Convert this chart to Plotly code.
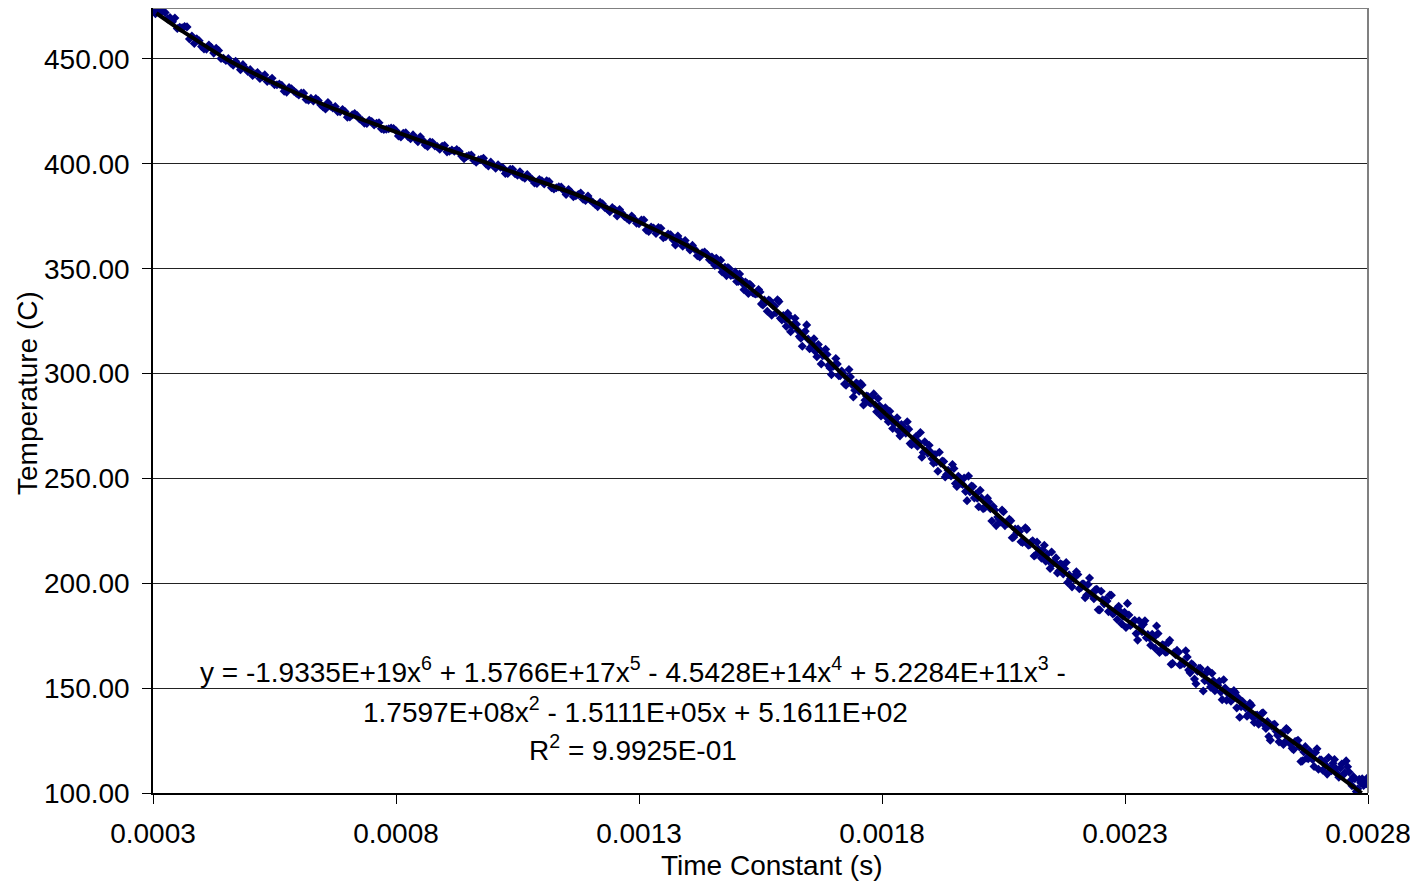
import plotly.graph_objects as go

# ---------------- data ----------------
# time constant in microseconds (converted to seconds below), temperature in C
scatter_time_us = [
    # first pass
    304, 305, 315, 320, 325, 330, 335, 345, 350, 355, 365, 370, 375, 385, 390, 395, 405, 410, 415, 425, 430, 435, 440, 445,
    455, 465, 475, 485, 495, 505, 515, 525, 535, 545, 555, 565, 575, 585, 595, 605, 615, 625, 635, 645, 655, 665, 675, 685, 695, 705, 715, 725, 735, 745,
    755, 765, 775, 785, 795, 805, 815, 825, 835, 845, 855, 865, 875, 885, 895, 905, 915, 925, 935, 945, 955, 965, 975, 985, 995,
    1005, 1015, 1025, 1035, 1045, 1055, 1065, 1075, 1085, 1095, 1105, 1115, 1125, 1135, 1145, 1155, 1165, 1175, 1185, 1195,
    1205, 1215, 1225, 1235, 1245, 1255, 1265, 1275, 1285, 1295,
    1305, 1315, 1325, 1335, 1345, 1355, 1365, 1375, 1385, 1395, 1405, 1415, 1425, 1435, 1445,
    1450, 1456, 1462, 1468, 1474, 1480, 1486, 1492, 1498, 1504,
    1510, 1516, 1522, 1528, 1534, 1540, 1546, 1552, 1558, 1564,
    1570, 1576, 1582, 1588, 1594, 1600, 1606, 1612, 1618, 1624,
    1630, 1636, 1642, 1648, 1654, 1660, 1666, 1672, 1678, 1684,
    1690, 1696, 1702, 1708, 1714, 1720, 1726, 1732, 1738, 1744,
    1750, 1756, 1762, 1768, 1774, 1780, 1786, 1792, 1798, 1804,
    1810, 1816, 1822, 1828, 1834, 1840, 1846, 1852, 1858, 1864,
    1870, 1876, 1882, 1888, 1894, 1900, 1906, 1912, 1918, 1924,
    1930, 1936, 1942, 1948, 1954, 1960, 1966, 1972, 1978, 1984,
    1990, 1996, 2002, 2008, 2014, 2020, 2026, 2032, 2038, 2044,
    2050, 2056, 2062, 2068, 2074, 2080, 2086, 2092, 2098, 2104,
    2110, 2116, 2122, 2128, 2134, 2140, 2146, 2152, 2158, 2164,
    2170, 2176, 2182, 2188, 2194, 2200, 2206, 2212, 2218, 2224,
    2230, 2236, 2242, 2248, 2254, 2260, 2266, 2272, 2278, 2284,
    2290, 2296, 2302, 2308, 2314, 2320, 2326, 2332, 2338, 2344,
    2350, 2356, 2362, 2368, 2374, 2380, 2386, 2392, 2398, 2404,
    2410, 2416, 2422, 2428, 2434, 2440, 2446, 2452, 2458, 2464,
    2470, 2476, 2482, 2488, 2494, 2500, 2506, 2512, 2518, 2524,
    2530, 2536, 2542, 2548, 2554, 2560, 2566, 2572, 2578, 2584,
    2590, 2596, 2602, 2608, 2614, 2620, 2626, 2632, 2638, 2644,
    2650, 2656, 2662, 2668, 2674, 2680, 2686, 2692, 2698, 2704,
    2710, 2716, 2722, 2728, 2734, 2740, 2746, 2752, 2758, 2764,
    2770, 2776, 2782, 2788, 2794, 2800,
    # second pass
    310, 340, 360, 380, 400, 420, 450,
    460, 470, 480, 490, 500, 510, 520, 530, 540, 550, 560, 570, 580, 590, 600, 610, 620, 630, 640, 650, 660, 670, 680, 690, 700, 710, 720, 730, 740, 750,
    760, 770, 780, 790, 800, 810, 820, 830, 840, 850, 860, 870, 880, 890, 900, 910, 920, 930, 940, 950, 960, 970, 980, 990, 1000, 1010, 1020, 1030, 1040, 1050,
    1060, 1070, 1080, 1090, 1100, 1110, 1120, 1130, 1140, 1150, 1160, 1170, 1180, 1190, 1200, 1210, 1220, 1230, 1240, 1250, 1260, 1270, 1280, 1290, 1300,
    1310, 1320, 1330, 1340, 1350, 1360, 1370, 1380, 1390, 1400, 1410, 1420, 1430, 1440,
    1453, 1459, 1465, 1471, 1477, 1483, 1489, 1495, 1501, 1507,
    1513, 1519, 1525, 1531, 1537, 1543, 1549, 1555, 1561, 1567,
    1573, 1579, 1585, 1591, 1597, 1603, 1609, 1615, 1621, 1627,
    1633, 1639, 1645, 1651, 1657, 1663, 1669, 1675, 1681, 1687,
    1693, 1699, 1705, 1711, 1717, 1723, 1729, 1735, 1741, 1747,
    1753, 1759, 1765, 1771, 1777, 1783, 1789, 1795, 1801, 1807,
    1813, 1819, 1825, 1831, 1837, 1843, 1849, 1855, 1861, 1867,
    1873, 1879, 1885, 1891, 1897, 1903, 1909, 1915, 1921, 1927,
    1933, 1939, 1945, 1951, 1957, 1963, 1969, 1975, 1981, 1987,
    1993, 1999, 2005, 2011, 2017, 2023, 2029, 2035, 2041, 2047,
    2053, 2059, 2065, 2071, 2077, 2083, 2089, 2095, 2101, 2107,
    2113, 2119, 2125, 2131, 2137, 2143, 2149, 2155, 2161, 2167,
    2173, 2179, 2185, 2191, 2197, 2203, 2209, 2215, 2221, 2227,
    2233, 2239, 2245, 2251, 2257, 2263, 2269, 2275, 2281, 2287,
    2293, 2299, 2305, 2311, 2317, 2323, 2329, 2335, 2341, 2347,
    2353, 2359, 2365, 2371, 2377, 2383, 2389, 2395, 2401, 2407,
    2413, 2419, 2425, 2431, 2437, 2443, 2449, 2455, 2461, 2467,
    2473, 2479, 2485, 2491, 2497, 2503, 2509, 2515, 2521, 2527,
    2533, 2539, 2545, 2551, 2557, 2563, 2569, 2575, 2581, 2587,
    2593, 2599, 2605, 2611, 2617, 2623, 2629, 2635, 2641, 2647,
    2653, 2659, 2665, 2671, 2677, 2683, 2689, 2695, 2701, 2707,
    2713, 2719, 2725, 2731, 2737, 2743, 2749, 2755, 2761, 2767,
    2773, 2779, 2785, 2791, 2797,
]
scatter_temp = [
    # first pass
    473.2, 471.6, 472.0, 473.0, 472.1, 469.1, 469.8, 469.5, 464.5, 465.1, 465.5, 465.3, 459.5, 457.4, 459.6, 458.7, 454.8, 454.7, 456.6, 452.8, 455.1, 454.0, 450.2, 450.3,
    450.2, 447.0, 447.3, 447.3, 444.0, 442.1, 443.5, 441.5, 439.3, 440.8, 437.7, 437.4, 434.2, 435.8, 433.7, 433.7, 430.7, 431.2, 431.1, 428.2, 426.2, 427.5, 427.3, 424.8, 424.9, 422.3, 424.0, 421.4, 419.4, 420.8,
    418.5, 419.6, 416.4, 416.7, 416.8, 413.3, 414.6, 412.9, 413.8, 410.5, 411.2, 408.3, 410.2, 408.2, 408.4, 405.7, 406.6, 406.8, 403.7, 403.5, 404.2, 400.8, 402.1, 400.0, 400.8,
    397.9, 398.4, 395.4, 397.4, 395.3, 396.2, 393.1, 393.5, 390.9, 392.5, 390.4, 391.5, 388.0, 389.0, 387.3, 387.7, 384.3, 385.3, 383.1, 384.6,
    381.7, 379.6, 380.9, 378.4, 379.1, 375.1, 376.4, 374.1, 375.1, 371.7,
    373.2, 368.4, 369.9, 366.8, 369.3, 365.3, 366.2, 361.3, 363.3, 363.4, 358.9, 359.2, 355.6, 357.9, 354.3,
    355.6, 351.6, 352.8, 354.0, 349.7, 346.7, 350.0, 347.1, 348.4, 343.9,
    344.6, 340.0, 343.0, 342.6, 338.5, 338.0, 340.1, 333.2, 335.0, 329.7,
    334.6, 332.3, 329.0, 334.3, 325.6, 325.9, 328.7, 319.9, 323.5, 323.5,
    317.7, 313.0, 320.2, 316.4, 312.7, 316.6, 308.0, 311.3, 308.5, 311.6,
    303.8, 299.5, 304.0, 304.5, 299.0, 300.0, 294.5, 301.9, 294.8, 292.0,
    295.0, 295.3, 285.0, 289.3, 286.2, 289.2, 285.0, 288.1, 279.8, 283.0,
    278.9, 282.0, 273.8, 276.9, 272.6, 275.7, 272.6, 277.0, 266.6, 266.9,
    270.0, 267.1, 260.1, 267.5, 262.0, 262.6, 257.2, 257.9, 262.5, 258.3,
    250.7, 253.9, 251.2, 254.7, 246.2, 250.3, 247.1, 243.8, 251.1, 246.4,
    240.7, 240.6, 244.3, 235.6, 238.4, 238.8, 229.7, 234.9, 231.6, 229.3,
    234.1, 228.8, 230.5, 221.7, 225.9, 225.9, 219.8, 220.1, 225.7, 218.4,
    220.3, 213.5, 216.2, 212.0, 218.1, 213.8, 207.1, 209.5, 212.1, 205.9,
    208.9, 206.9, 200.4, 202.2, 202.2, 205.5, 197.4, 199.6, 193.1, 199.4,
    194.9, 192.6, 197.1, 187.3, 192.1, 192.2, 186.5, 194.3, 186.0, 182.7,
    186.5, 184.3, 178.9, 184.9, 180.6, 182.3, 172.9, 178.9, 180.5, 174.0,
    174.0, 175.7, 169.0, 176.0, 168.0, 170.4, 167.2, 172.8, 161.8, 165.9,
    167.1, 161.4, 161.6, 164.8, 157.3, 161.0, 152.1, 159.4, 157.0, 153.5,
    158.6, 150.5, 153.5, 151.0, 153.3, 144.5, 150.1, 147.4, 143.8, 148.8,
    140.6, 136.1, 143.6, 140.5, 137.5, 141.8, 133.6, 137.2, 134.8, 138.3,
    130.8, 126.9, 131.8, 132.7, 127.5, 128.3, 123.1, 130.7, 123.9, 121.3,
    124.5, 125.1, 115.0, 119.6, 116.7, 120.0, 116.0, 119.3, 111.3, 115.7,
    115.0, 109.0, 111.7, 114.2, 111.7, 107.5, 113.8, 109.7, 112.5, 105.9,
    107.8, 100.7, 106.5, 106.8, 105.2, 107.5,
    # second pass
    473.0, 467.7, 464.9, 460.9, 455.9, 455.4, 449.3,
    448.1, 448.9, 444.9, 445.6, 444.9, 442.8, 440.7, 442.4, 439.8, 437.7, 438.0, 434.6, 436.4, 434.6, 432.8, 433.7, 430.3, 430.0, 430.2, 427.1, 429.2, 426.6, 424.9, 425.9, 422.2, 423.4, 423.0, 420.8, 419.2, 420.2,
    419.3, 416.7, 416.5, 417.1, 415.8, 412.8, 414.8, 412.0, 412.0, 412.9, 409.0, 410.4, 408.5, 407.0, 408.7, 406.0, 406.0, 406.0, 402.5, 404.0, 401.7, 401.9, 402.6, 399.0, 399.2, 399.5, 398.1, 395.4, 397.4, 394.6,
    393.7, 394.9, 392.6, 390.6, 391.9, 391.9, 388.6, 388.6, 388.9, 385.4, 386.6, 384.8, 386.1, 382.5, 382.6, 380.6, 381.6, 379.1, 377.2, 378.2, 378.2, 374.9, 373.1, 373.7, 371.5,
    373.2, 367.7, 369.4, 369.6, 364.8, 366.5, 363.8, 365.6, 360.7, 360.7, 361.1, 356.2, 357.6, 356.9,
    352.7, 355.0, 351.6, 348.4, 350.7, 350.5, 346.8, 347.0, 343.9, 347.5,
    343.1, 343.6, 338.2, 341.9, 338.2, 338.2, 338.9, 332.7, 334.1, 335.1,
    327.8, 332.1, 335.2, 326.4, 327.7, 322.5, 327.2, 322.4, 326.4, 320.5,
    316.8, 319.4, 323.2, 311.8, 314.1, 310.5, 313.8, 304.6, 308.8, 309.1,
    302.7, 303.4, 307.2, 299.0, 301.2, 295.0, 297.7, 298.4, 288.8, 295.5,
    291.6, 294.6, 287.3, 289.1, 285.9, 290.3, 281.8, 284.6, 281.8, 283.7,
    277.0, 278.8, 276.1, 278.9, 270.3, 274.8, 271.6, 273.5, 266.1, 269.1,
    265.3, 271.9, 262.4, 263.1, 265.8, 259.4, 261.4, 253.4, 257.3, 258.1,
    251.9, 252.3, 256.6, 247.6, 251.0, 247.6, 250.2, 239.4, 243.5, 246.1,
    242.5, 236.5, 240.6, 235.9, 240.6, 235.5, 236.6, 227.5, 230.6, 234.9,
    227.5, 228.5, 229.8, 222.0, 224.0, 224.7, 219.5, 226.5, 218.2, 219.7,
    213.0, 219.6, 214.9, 215.9, 210.5, 210.6, 214.9, 210.1, 204.9, 209.3,
    204.4, 209.9, 204.0, 198.3, 203.8, 204.2, 197.9, 199.6, 194.3, 202.5,
    194.9, 196.9, 187.4, 196.2, 190.2, 191.5, 194.4, 185.4, 187.5, 189.0,
    180.7, 186.2, 190.4, 179.9, 181.7, 176.0, 182.1, 176.9, 182.1, 175.5,
    170.5, 174.2, 179.6, 167.0, 170.7, 167.1, 171.7, 161.4, 167.0, 168.0,
    161.0, 162.5, 167.8, 158.6, 161.6, 154.3, 158.1, 159.5, 148.6, 157.1,
    152.9, 157.1, 148.8, 151.4, 148.1, 154.0, 144.2, 148.0, 145.2, 147.9,
    145.4, 141.2, 141.7, 136.6, 142.8, 136.1, 137.0, 132.8, 137.9, 132.6,
    134.1, 125.2, 132.5, 129.5, 124.4, 128.6, 124.3, 130.0, 123.8, 120.7,
    124.6, 121.9, 115.3, 122.1, 116.3, 117.5, 112.6, 121.1, 115.8, 110.9,
    113.2, 116.9, 110.6, 116.0, 109.0, 111.9, 108.6, 115.3, 110.0, 103.5,
    106.8, 102.0, 104.9, 103.6, 104.4,
]

# polynomial trendline
trend_time_us = [307, 362, 410, 454, 500, 568, 637, 705, 774, 843, 911, 980, 1041, 1110, 1179, 1247,
                 1316, 1384, 1453, 1477, 1522, 1590, 1650, 1717, 1837, 1954, 2080, 2204, 2350, 2496, 2640, 2787]
trend_temp = [471.8, 463.0, 455.9, 449.5, 444.0, 436.5, 429.6, 423.3, 417.4, 411.7, 406.4, 401.0, 396.0, 390.5, 384.6, 377.8,
              370.5, 362.8, 354.0, 350.0, 342.0, 328.8, 315.6, 300.0, 274.6, 250.0, 224.0, 200.0, 174.5, 150.0, 125.3, 100.0]

x_tick_values = [0.0003, 0.0008, 0.0013, 0.0018, 0.0023, 0.0028]
x_tick_labels = ["0.0003", "0.0008", "0.0013", "0.0018", "0.0023", "0.0028"]
y_tick_values = [100, 150, 200, 250, 300, 350, 400, 450]
y_tick_labels = ["%.2f" % v for v in y_tick_values]

x_title = "Time Constant (s)"
y_title = "Temperature (C)"
equation_lines = [
    "y = -1.9335E+19x<sup>6</sup> + 1.5766E+17x<sup>5</sup> - 4.5428E+14x<sup>4</sup> + 5.2284E+11x<sup>3</sup> -",
    "1.7597E+08x<sup>2</sup> - 1.5111E+05x + 5.1611E+02",
    "R<sup>2</sup> = 9.9925E-01",
]

# ---------------- figure ----------------
# the page body has an 8px margin, so the figure is placed at (8, 8)
OFF = 8
W, H = 1418 - OFF, 882 - OFF
L, R, T, B = 145, 50, 0, 89
PW, PH = W - L - R, H - T - B
FONT = "Liberation Sans, Arial, Helvetica, sans-serif"
FS = 28
n = min(len(scatter_time_us), len(scatter_temp))


def paper(page_x, page_y):
    fx, fy = page_x - OFF, page_y - OFF
    return (fx - L) / PW, (H - B - fy) / PH


fig = go.Figure()
fig.add_trace(go.Scatter(
    x=[t * 1e-6 for t in scatter_time_us[:n]], y=scatter_temp[:n], mode="markers",
    marker=dict(symbol="diamond", size=7, color="#000080", line=dict(width=0)),
    showlegend=False, hoverinfo="skip"))
fig.add_trace(go.Scatter(
    x=[t * 1e-6 for t in trend_time_us], y=trend_temp, mode="lines",
    line=dict(color="black", width=4, shape="spline", smoothing=0.8),
    showlegend=False, hoverinfo="skip"))

annotations = []
ax, ay = paper(772, 865)
annotations.append(dict(text=x_title, x=ax, y=ay, xref="paper", yref="paper",
                        xanchor="center", yanchor="middle", showarrow=False,
                        font=dict(family=FONT, size=FS, color="black")))
ax, ay = paper(27, 393)
annotations.append(dict(text=y_title, x=ax, y=ay, xref="paper", yref="paper", textangle=-90,
                        xanchor="center", yanchor="middle", showarrow=False,
                        font=dict(family=FONT, size=FS, color="black")))
for (cx, cy), line in zip([(633, 670), (635, 710), (633, 748)], equation_lines):
    ax, ay = paper(cx, cy)
    annotations.append(dict(text=line, x=ax, y=ay, xref="paper", yref="paper",
                            xanchor="center", yanchor="middle", showarrow=False,
                            font=dict(family=FONT, size=FS, color="black")))

fig.update_layout(
    width=W, height=H,
    margin=dict(l=L, r=R, t=T, b=B, pad=0),
    paper_bgcolor="white", plot_bgcolor="white",
    font=dict(family=FONT, size=FS, color="black"),
    annotations=annotations,
    shapes=[
        dict(type="line", xref="paper", yref="paper", x0=0, x1=1, y0=1, y1=1,
             line=dict(color="#808080", width=2)),
        dict(type="line", xref="paper", yref="paper", x0=1, x1=1, y0=0, y1=1,
             line=dict(color="#808080", width=2)),
    ],
    xaxis=dict(range=[0.0003, 0.0028], tickmode="array", tickvals=x_tick_values, ticktext=x_tick_labels,
               ticks="outside", ticklen=9, tickcolor="black", tickwidth=1,
               showline=True, linecolor="black", linewidth=1.5,
               showgrid=False, zeroline=False, ticklabelstandoff=6,
               tickfont=dict(family=FONT, size=FS, color="black")),
    yaxis=dict(range=[100, 474.3], tickmode="array", tickvals=y_tick_values, ticktext=y_tick_labels,
               ticks="outside", ticklen=9, tickcolor="black", tickwidth=1,
               showline=True, linecolor="black", linewidth=1.5,
               showgrid=True, gridcolor="#222222", gridwidth=1, zeroline=False,
               ticklabelstandoff=7,
               tickfont=dict(family=FONT, size=FS, color="black")),
)

fig.write_html("out.html")
